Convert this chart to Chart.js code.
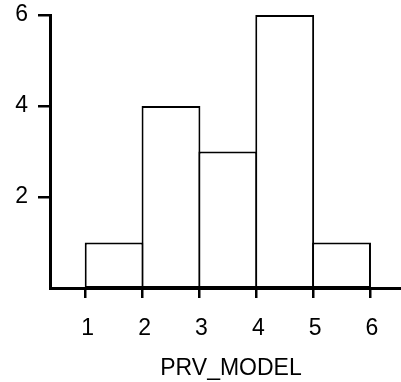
<!DOCTYPE html>
<html><head><meta charset="utf-8">
<script src="https://cdn.jsdelivr.net/npm/chart.js@4/dist/chart.umd.min.js"></script>
<style>html,body{margin:0;padding:0;overflow:hidden;background:#fff;width:401px;height:382px}</style>
</head><body>
<canvas id="c" width="412" height="382" style="display:block"></canvas>
<script>
// Histogram data (bins of width 1)
const binStarts = [1, 2, 3, 4, 5];
const binEnds   = [2, 3, 4, 5, 6];
const counts    = [1, 4, 3, 6, 1];
const xTickValues = [1, 2, 3, 4, 5, 6];
const yTickValues = [2, 4, 6];
const xTitle = 'PRV_MODEL';

const FONT = '"Liberation Sans", Arial, Helvetica, sans-serif';
const points = binStarts.map((s, i) => ({ x: (s + binEnds[i]) / 2, y: counts[i] }));

new Chart(document.getElementById('c'), {
  type: 'bar',
  data: {
    datasets: [{
      data: points,
      backgroundColor: '#ffffff',
      borderColor: '#000000',
      borderWidth: 2,
      borderSkipped: false,
      barPercentage: 1.035,
      categoryPercentage: 1
    }]
  },
  options: {
    responsive: false,
    animation: false,
    layout: { padding: { top: 15, left: 0, right: 0, bottom: 0 } },
    plugins: { legend: { display: false }, tooltip: { enabled: false } },
    scales: {
      x: {
        type: 'linear',
        min: 0.372,
        max: 6.739,
        offset: false,
        afterBuildTicks: s => { s.ticks = xTickValues.map(v => ({ value: v })); },
        afterFit: s => { s.height = 94; s.paddingLeft = 0; s.paddingRight = 0; },
        grid: { offset: false, drawOnChartArea: false, drawTicks: true, tickLength: 10, color: '#000', lineWidth: 2.5 },
        border: { display: true, color: '#000', width: 3 },
        ticks: { color: '#000', font: { family: FONT, size: 23 }, padding: 17, labelOffset: 2, maxRotation: 0, autoSkip: false },
        title: { display: true, text: xTitle, color: '#000', font: { family: FONT, size: 23 }, padding: { top: 0, bottom: 0 } }
      },
      y: {
        min: 0,
        max: 6,
        afterBuildTicks: s => { s.ticks = yTickValues.map(v => ({ value: v })); },
        afterFit: s => { s.width = 50; s.paddingTop = 0; s.paddingBottom = 0; },
        grid: { drawOnChartArea: false, drawTicks: true, tickLength: 12, color: '#000', lineWidth: 2.5 },
        border: { display: true, color: '#000', width: 3 },
        ticks: { color: '#000', font: { family: FONT, size: 23 }, padding: 10 }
      }
    }
  }
});
</script>
</body></html>
